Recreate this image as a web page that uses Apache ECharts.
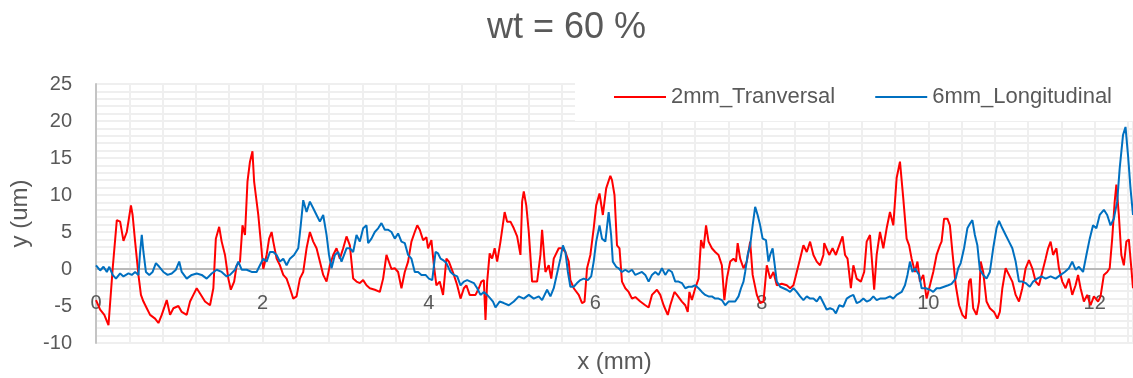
<!DOCTYPE html>
<html>
<head>
<meta charset="utf-8">
<script src="https://cdn.jsdelivr.net/npm/echarts@6/dist/echarts.min.js"></script>
<style>
  html, body { margin: 0; padding: 0; background: #ffffff; }
  #chart { width: 1133px; height: 378px; }
</style>
</head>
<body>
<div id="chart"></div>
<script>
// Surface profile, 2 mm transversal scan (x in mm, y in um)
const xRed = [0,0.05,0.1,0.15,0.2,0.25,0.29,0.33,0.37,0.42,0.44,0.47,0.51,0.54,0.57,0.61,0.65,0.71,0.75,0.79,0.85,0.89,0.93,0.99,1.03,1.09,1.13,1.17,1.21,1.25,1.31,1.37,1.41,1.44,1.48,1.51,1.55,1.59,1.62,1.66,1.69,1.73,1.76,1.79,1.82,1.85,1.88,1.9,1.92,1.95,1.98,2.01,2.05,2.08,2.11,2.13,2.17,2.21,2.25,2.29,2.33,2.37,2.41,2.45,2.49,2.53,2.57,2.61,2.65,2.69,2.73,2.77,2.81,2.85,2.89,2.93,2.97,3.01,3.05,3.09,3.13,3.17,3.21,3.25,3.29,3.35,3.41,3.45,3.49,3.51,3.55,3.59,3.63,3.67,3.71,3.75,3.79,3.83,3.86,3.89,3.93,3.97,3.99,4.03,4.06,4.09,4.13,4.17,4.21,4.24,4.3,4.34,4.38,4.42,4.45,4.49,4.56,4.6,4.63,4.66,4.68,4.7,4.73,4.76,4.79,4.82,4.86,4.91,4.94,4.98,5.02,5.06,5.1,5.12,5.14,5.17,5.2,5.24,5.3,5.34,5.36,5.4,5.44,5.47,5.5,5.56,5.6,5.64,5.68,5.7,5.74,5.8,5.84,5.87,5.9,5.94,5.98,6.01,6.05,6.09,6.13,6.18,6.2,6.23,6.26,6.29,6.32,6.36,6.4,6.44,6.48,6.54,6.6,6.64,6.68,6.74,6.78,6.82,6.87,6.9,6.95,6.98,7.04,7.08,7.11,7.13,7.16,7.2,7.24,7.27,7.3,7.33,7.36,7.4,7.44,7.48,7.52,7.55,7.58,7.62,7.66,7.69,7.71,7.74,7.78,7.82,7.86,7.89,7.94,7.98,8.02,8.06,8.1,8.14,8.18,8.24,8.3,8.34,8.38,8.42,8.46,8.5,8.54,8.58,8.62,8.66,8.7,8.74,8.75,8.81,8.85,8.89,8.94,8.97,9.0,9.03,9.07,9.1,9.14,9.19,9.23,9.26,9.3,9.35,9.38,9.42,9.46,9.5,9.54,9.58,9.62,9.66,9.7,9.74,9.77,9.8,9.84,9.87,9.9,9.94,9.98,10.02,10.06,10.1,10.14,10.16,10.19,10.23,10.26,10.29,10.33,10.37,10.41,10.45,10.49,10.51,10.54,10.58,10.61,10.63,10.66,10.7,10.74,10.79,10.83,10.86,10.89,10.93,10.97,11.01,11.05,11.09,11.13,11.17,11.21,11.25,11.29,11.33,11.37,11.41,11.44,11.47,11.5,11.54,11.57,11.61,11.65,11.69,11.73,11.77,11.8,11.83,11.87,11.91,11.95,11.99,12.04,12.07,12.11,12.15,12.18,12.21,12.24,12.26,12.29,12.32,12.35,12.38,12.41,12.44,12.46];
const yRed = [-4.2,-5.5,-6.2,-7.6,0,6.6,6.4,3.8,5.0,8.6,7.3,3.7,-0.8,-3.5,-4.4,-5.3,-6.2,-6.7,-7.3,-6.2,-4.2,-6.2,-5.3,-5.0,-5.8,-6.2,-4.4,-3.5,-2.6,-3.3,-4.4,-4.9,-2.6,4.1,5.7,3.7,1.9,-1.3,-2.8,-1.7,0.5,1.0,5.9,4.6,11.8,14.5,15.9,11.8,10.0,7.3,3.7,0,1.9,4.1,5.0,3.7,1.4,0.5,-0.8,-1.3,-2.6,-4.0,-3.7,-1.3,-0.4,2.8,5.0,3.7,2.8,1.0,-0.8,-1.7,0.5,1.9,2.8,1.4,2.8,4.4,3.2,-1.3,-1.7,-1.9,-1.5,-2.2,-2.6,-2.8,-3.1,-1.3,1.9,2.1,0,0.1,-0.4,-2.6,-0.4,1.0,3.7,5.0,5.9,5.3,3.9,4.3,2.8,3.9,0.5,-2.2,-1.7,-3.5,1.4,1.0,-0.8,-2.2,-4.0,-2.6,-2.2,-3.5,-3.5,-2.6,-1.7,-1.5,-6.9,-1.7,2.1,1.4,2.8,1.0,3.7,7.7,6.4,6.4,5.5,4.4,1.9,9.1,10.5,8.6,5.0,-1.7,-1.7,1.9,5.3,-0.4,0.5,-1.3,1.4,2.8,2.8,2.3,1.0,-1.5,-2.6,-3.5,-4.6,-4.4,0.1,1.9,5.5,8.6,10.2,7.3,10.9,12.6,12.0,10.0,3.2,2.8,-1.7,-2.6,-3.1,-4.0,-3.8,-4.4,-4.9,-5.2,-3.5,-2.8,-3.5,-4.9,-6.2,-4.9,-3.1,-3.5,-4.4,-4.9,-5.8,-3.1,-4.2,-2.6,-1.3,3.9,2.8,5.9,3.7,2.8,2.3,1.9,0.5,-4.2,-1.3,1.0,1.4,1.0,3.5,1.4,0.1,1.0,3.7,-0.8,-3.5,-4.6,-4.4,0.5,-1.3,-0.4,-2.2,-2.0,-2.2,-2.6,-2.2,-0.4,1.4,3.2,2.3,3.7,1.9,1.0,0.5,1.9,3.5,1.9,2.8,1.9,3.5,4.4,1.9,1.4,-2.6,0.5,-1.3,-1.7,-0.4,3.7,4.6,-2.8,1.9,5.0,2.8,5.5,7.7,5.9,12.3,14.5,9.5,4.1,3.2,1.4,-0.4,1.0,-1.7,-0.8,-4.0,-2.2,-0.4,1.9,3.2,3.7,6.8,6.8,5.9,2.3,-2.2,-4.9,-6.2,-6.7,-1.7,-1.3,-5.3,-6.2,-4.4,1.0,-0.4,-4.4,-5.3,-5.8,-6.7,-5.8,-2.6,0.1,-0.8,-1.7,-3.5,-4.4,-2.6,0.1,1.2,0.1,-1.7,-2.2,-0.4,1.4,2.8,3.7,1.9,2.8,0.1,-1.7,-2.6,-1.3,-3.5,-2.2,-0.8,-2.6,-4.4,-3.5,-4.9,-3.7,-4.4,-3.7,-0.8,-0.4,0.1,4.1,9.1,11.4,7.3,1.9,0.5,3.7,4.0,0.1,-2.6];

// Surface profile, 6 mm longitudinal scan (x in mm, y in um)
const xBlue = [0,0.05,0.09,0.13,0.16,0.2,0.24,0.29,0.33,0.39,0.43,0.47,0.51,0.53,0.55,0.57,0.6,0.64,0.68,0.72,0.76,0.81,0.86,0.91,0.96,1.0,1.03,1.09,1.15,1.21,1.27,1.33,1.39,1.45,1.51,1.57,1.61,1.67,1.71,1.75,1.81,1.87,1.93,1.97,2.01,2.05,2.09,2.13,2.17,2.21,2.25,2.29,2.33,2.38,2.43,2.46,2.49,2.53,2.57,2.61,2.65,2.69,2.73,2.77,2.8,2.83,2.87,2.91,2.95,3.01,3.05,3.09,3.13,3.17,3.21,3.25,3.27,3.31,3.35,3.39,3.43,3.47,3.51,3.55,3.59,3.63,3.67,3.71,3.75,3.79,3.83,3.87,3.91,3.96,4.0,4.04,4.08,4.11,4.14,4.17,4.21,4.26,4.3,4.34,4.38,4.42,4.46,4.5,4.54,4.58,4.62,4.66,4.7,4.74,4.77,4.8,4.85,4.9,4.96,5.02,5.08,5.14,5.2,5.26,5.32,5.36,5.42,5.46,5.5,5.54,5.58,5.61,5.64,5.67,5.7,5.74,5.78,5.82,5.86,5.91,5.95,5.98,6.01,6.05,6.08,6.12,6.16,6.19,6.21,6.25,6.28,6.32,6.36,6.4,6.44,6.48,6.52,6.56,6.6,6.64,6.68,6.72,6.76,6.8,6.84,6.88,6.92,6.96,7.0,7.04,7.08,7.12,7.16,7.2,7.24,7.28,7.32,7.36,7.4,7.44,7.48,7.52,7.56,7.6,7.64,7.68,7.72,7.75,7.78,7.8,7.83,7.86,7.89,7.92,7.95,7.98,8.01,8.05,8.08,8.1,8.13,8.15,8.18,8.22,8.26,8.3,8.34,8.38,8.42,8.46,8.5,8.54,8.58,8.62,8.66,8.7,8.74,8.78,8.82,8.86,8.89,8.93,8.98,9.02,9.06,9.1,9.14,9.18,9.22,9.26,9.3,9.34,9.38,9.42,9.48,9.54,9.58,9.62,9.68,9.72,9.75,9.78,9.81,9.84,9.86,9.89,9.92,9.97,10.02,10.06,10.1,10.14,10.19,10.24,10.28,10.33,10.36,10.39,10.43,10.47,10.5,10.53,10.56,10.59,10.62,10.66,10.7,10.74,10.78,10.82,10.85,10.89,10.93,10.97,11.01,11.05,11.09,11.13,11.17,11.22,11.26,11.31,11.36,11.41,11.47,11.53,11.59,11.64,11.69,11.73,11.77,11.81,11.86,11.9,11.94,11.98,12.02,12.06,12.11,12.15,12.19,12.23,12.27,12.3,12.34,12.37,12.4,12.43,12.46];
const yBlue = [0.5,-0.2,0.3,-0.4,0.3,-0.8,-1.3,-0.6,-1.0,-0.6,-0.8,-0.4,-0.8,2.3,4.6,2.3,-0.4,-0.8,-0.4,0.8,0.3,-0.4,-0.8,-0.6,-0.1,1.0,-0.4,-1.3,-0.8,-0.6,-0.8,-1.3,-0.6,-0.1,-0.4,-1.0,-0.8,-0.1,1.0,-0.1,-0.1,-0.4,-0.4,0.5,1.4,1.0,2.3,2.3,1.9,1.0,1.4,0.5,1.4,1.9,2.8,5.9,9.3,7.7,9.1,8.2,7.3,6.4,7.3,4.6,1.9,0.1,1.9,2.3,1.0,2.8,2.8,2.3,4.6,3.7,5.5,5.9,3.5,4.1,5.0,5.5,6.2,5.3,5.3,5.0,4.1,4.8,3.7,3.5,1.9,1.4,-0.4,-0.4,-0.8,-0.8,-1.3,-1.5,2.3,2.1,1.4,1.2,0.8,-0.4,-0.8,-1.0,-2.2,-1.7,-1.5,-1.7,-1.9,-2.6,-3.5,-3.1,-3.5,-4.0,-4.4,-5.2,-4.4,-4.6,-4.9,-4.4,-3.7,-4.0,-3.5,-4.0,-3.7,-4.2,-2.8,-3.7,-2.6,-0.6,1.4,3.2,2.3,-0.4,-2.4,-2.4,-1.9,-1.5,-1.3,-1.5,-1.0,1.0,3.7,5.9,4.1,3.7,7.7,4.5,1.0,0.3,0.1,-0.4,-0.1,-0.4,-0.1,-0.8,-0.6,-0.4,-0.8,-1.7,-0.8,-0.4,-0.8,0.1,-0.8,-0.1,-0.4,-1.7,-1.7,-1.9,-2.6,-2.4,-2.4,-2.2,-2.6,-3.1,-3.5,-3.7,-3.7,-4.0,-4.0,-4.2,-4.9,-4.4,-4.4,-4.4,-3.7,-2.6,-1.7,-0.4,1.9,3.2,5.9,8.4,7.3,5.9,4.1,3.9,1.0,1.9,2.8,1.0,-1.7,-2.4,-2.6,-2.8,-3.1,-2.6,-3.1,-3.7,-4.2,-3.7,-4.0,-4.0,-4.4,-3.7,-4.6,-5.5,-5.3,-5.5,-6.0,-4.9,-5.1,-4.0,-3.7,-3.5,-4.6,-4.4,-4.0,-4.4,-4.2,-3.7,-4.2,-4.0,-4.0,-3.7,-4.0,-3.5,-3.1,-2.2,-0.8,1.0,-0.4,0.1,0.3,-0.8,-2.6,-2.6,-2.8,-3.1,-2.6,-2.6,-2.4,-2.2,-2.0,-1.3,0.1,0.8,2.8,5.5,6.1,6.6,4.6,3.2,-0.1,-0.8,-1.3,-0.4,2.8,5.5,6.5,5.5,4.6,3.7,2.8,1.0,-1.7,-1.7,-1.9,-2.4,-1.7,-1.3,-1.0,-1.3,-1.0,-1.3,-0.8,-0.4,0.1,1.0,-0.1,0.3,-0.4,1.9,4.1,5.9,5.5,7.3,8.0,7.3,5.9,6.8,9.1,13.6,18.1,19.2,15.4,10.9,7.3];

// Axis ranges and labelled ticks
const xRange = [0, 12.46];
const yRange = [-10, 25];
const xLabelStep = 2;
const yLabelStep = 5;

const seriesNames = ['2mm_Tranversal', '6mm_Longitudinal'];
const seriesColors = ['#ff0000', '#0070c0'];

const pairs = (xs, ys) => xs.map((x, i) => [x, ys[i]]);
const isMultiple = (v, step) => Math.abs(v / step - Math.round(v / step)) < 1e-6;

const textColor = '#595959';
const fontFamily = '"Liberation Sans", Arial, sans-serif';
const gridLine = { show: true, lineStyle: { color: '#efefef', width: 2 } };

const chart = echarts.init(document.getElementById('chart'), null, { renderer: 'canvas' });
chart.setOption({
  backgroundColor: '#ffffff',
  animation: false,
  textStyle: { fontFamily: fontFamily },
  title: {
    text: 'wt = 60 %',
    left: 'center',
    top: 5,
    textStyle: { color: textColor, fontSize: 36, fontWeight: 'normal', fontFamily: fontFamily }
  },
  legend: {
    data: seriesNames,
    left: 575,
    top: 73,
    width: 540,
    padding: [13, 24, 13, 39],
    backgroundColor: '#ffffff',
    itemGap: 40,
    itemWidth: 52,
    itemHeight: 2,
    icon: 'rect',
    textStyle: { color: textColor, fontSize: 22, fontFamily: fontFamily }
  },
  grid: { left: 96, right: 0, top: 84, bottom: 35, containLabel: false, outerBoundsMode: 'none' },
  xAxis: {
    type: 'value',
    min: xRange[0],
    max: xRange[1],
    interval: 0.4,
    name: 'x (mm)',
    nameLocation: 'middle',
    nameGap: 7,
    nameTextStyle: { color: textColor, fontSize: 24, fontFamily: fontFamily },
    axisLine: { show: true, onZero: true, lineStyle: { color: '#a9a9a9', width: 1.5 } },
    axisTick: { show: false },
    axisLabel: {
      color: textColor,
      fontSize: 20,
      margin: -50,
      formatter: v => isMultiple(v, xLabelStep) ? String(Math.round(v)) : ''
    },
    splitLine: gridLine
  },
  yAxis: {
    type: 'value',
    min: yRange[0],
    max: yRange[1],
    interval: 1,
    name: 'y (um)',
    nameLocation: 'middle',
    nameGap: 62,
    nameRotate: 90,
    nameTextStyle: { color: textColor, fontSize: 24, fontFamily: fontFamily },
    axisLine: { show: true, onZero: false, lineStyle: { color: '#c4c4c4', width: 2 } },
    axisTick: { show: false },
    axisLabel: {
      color: textColor,
      fontSize: 20,
      margin: 24,
      formatter: v => isMultiple(v, yLabelStep) ? String(Math.round(v)) : ''
    },
    splitLine: gridLine
  },
  series: [
    {
      name: seriesNames[0],
      type: 'line',
      data: pairs(xRed, yRed),
      showSymbol: false,
      symbol: 'none',
      lineStyle: { color: seriesColors[0], width: 2 },
      itemStyle: { color: seriesColors[0] },
      z: 2
    },
    {
      name: seriesNames[1],
      type: 'line',
      data: pairs(xBlue, yBlue),
      showSymbol: false,
      symbol: 'none',
      lineStyle: { color: seriesColors[1], width: 2 },
      itemStyle: { color: seriesColors[1] },
      z: 3
    }
  ]
});
</script>
</body>
</html>
